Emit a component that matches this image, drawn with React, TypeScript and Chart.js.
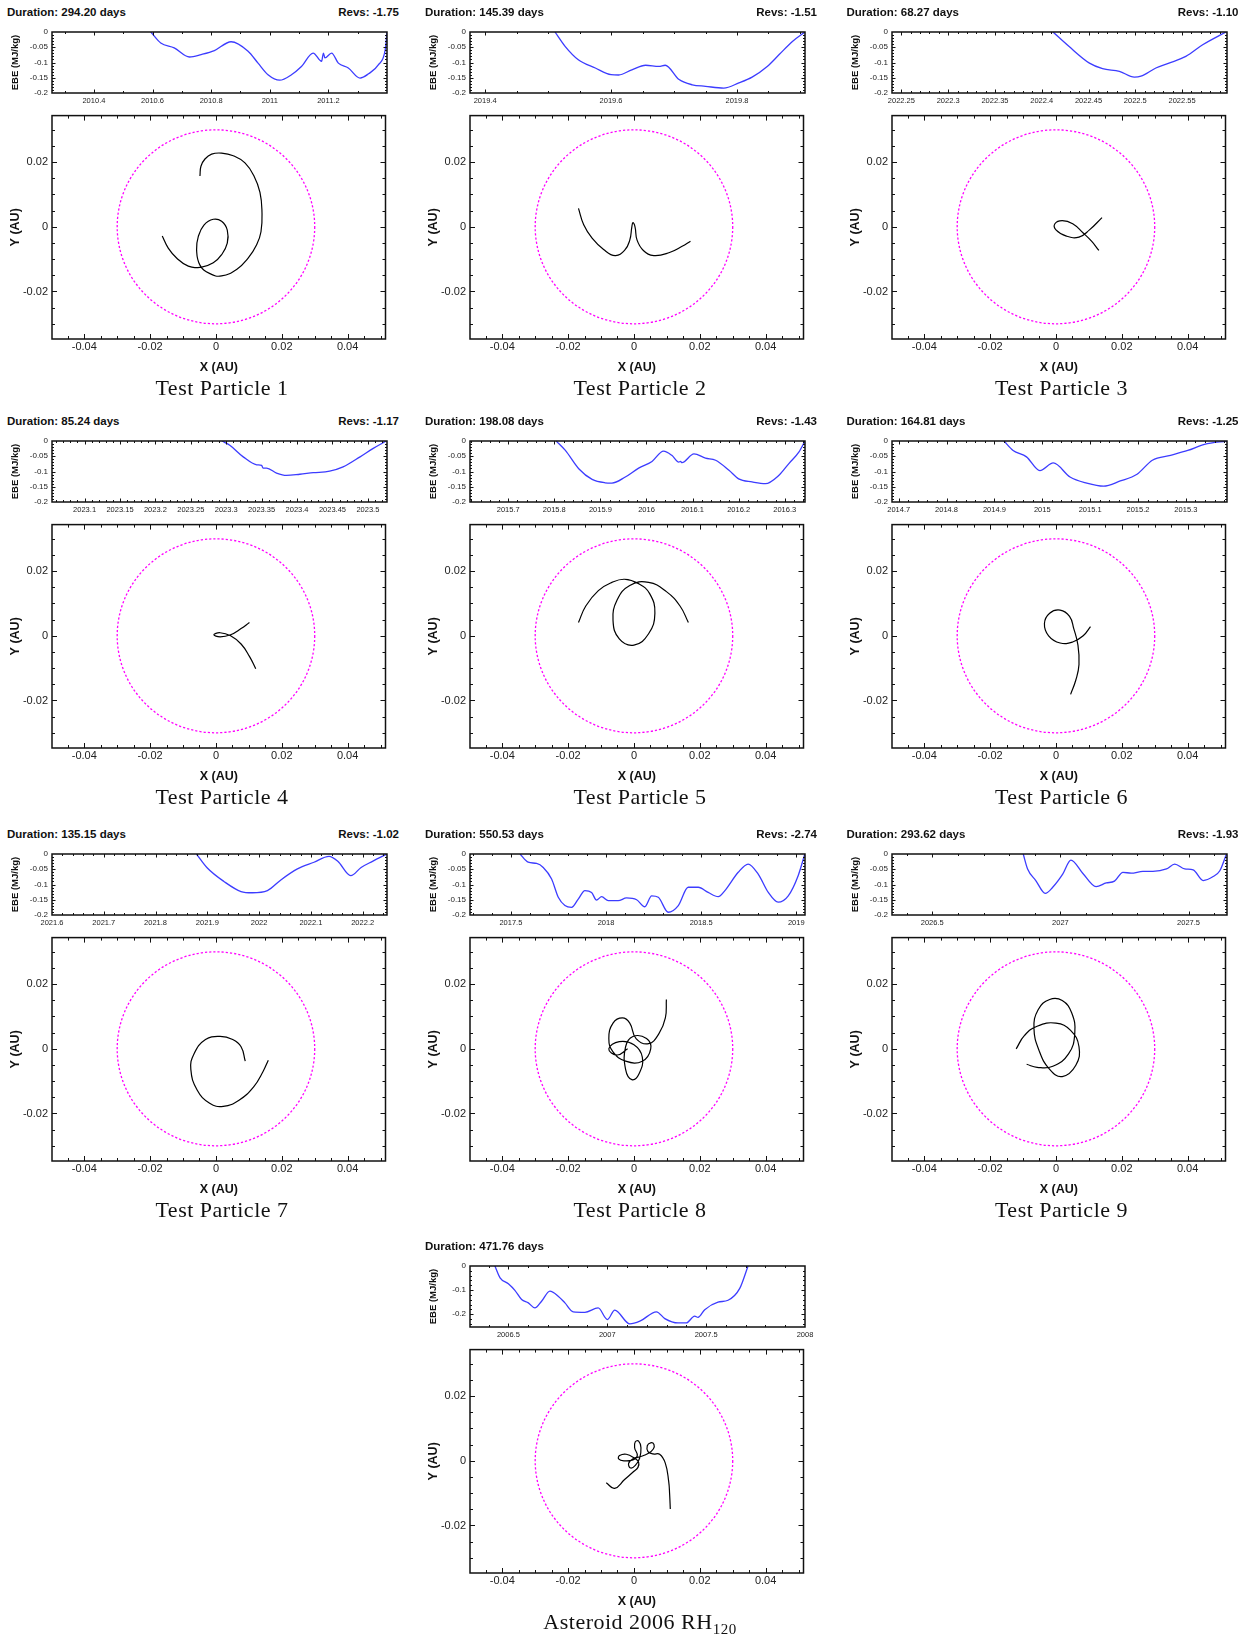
import React, { useEffect, useRef } from "react";
import { Chart, registerables } from "chart.js";
Chart.register(...registerables);

const SANS = "'Liberation Sans', Arial, Helvetica, sans-serif";
const SERIF = "'Liberation Serif', 'Times New Roman', serif";
Chart.defaults.font.family = SANS;

// ---------------- panel texts ----------------
const durations = ["294.20", "145.39", "68.27", "85.24", "198.08", "164.81", "135.15", "550.53", "293.62", "471.76"];
const revs = ["-1.75", "-1.51", "-1.10", "-1.17", "-1.43", "-1.25", "-1.02", "-2.74", "-1.93", ""];
const captions = ["Test Particle 1", "Test Particle 2", "Test Particle 3", "Test Particle 4", "Test Particle 5",
  "Test Particle 6", "Test Particle 7", "Test Particle 8", "Test Particle 9", "Asteroid 2006 RH"];

// ---------------- EBE (energy) series ----------------
const ebe1X = [2010.594, 2010.628, 2010.674, 2010.726, 2010.766, 2010.811, 2010.868, 2010.926, 2010.960, 2010.994, 2011.034, 2011.074, 2011.108, 2011.148, 2011.177, 2011.183, 2011.188, 2011.211, 2011.234, 2011.268, 2011.308, 2011.337, 2011.371, 2011.394, 2011.400];
const ebe1Y = [0, -0.036, -0.052, -0.082, -0.074, -0.061, -0.032, -0.063, -0.102, -0.14, -0.158, -0.14, -0.113, -0.069, -0.096, -0.069, -0.085, -0.069, -0.102, -0.118, -0.151, -0.137, -0.107, -0.058, 0];
const ebe2X = [2019.511, 2019.527, 2019.548, 2019.575, 2019.600, 2019.612, 2019.633, 2019.655, 2019.676, 2019.686, 2019.708, 2019.729, 2019.750, 2019.779, 2019.803, 2019.824, 2019.848, 2019.867, 2019.888, 2019.908];
const ebe2Y = [0, -0.047, -0.091, -0.118, -0.140, -0.141, -0.124, -0.109, -0.113, -0.109, -0.156, -0.173, -0.178, -0.184, -0.167, -0.148, -0.113, -0.074, -0.031, 0];
const ebe3X = [2022.412, 2022.429, 2022.451, 2022.465, 2022.483, 2022.499, 2022.506, 2022.522, 2022.536, 2022.554, 2022.572, 2022.597];
const ebe3Y = [0, -0.047, -0.102, -0.120, -0.129, -0.148, -0.145, -0.118, -0.102, -0.080, -0.042, 0];
const ebe4X = [2023.294, 2023.305, 2023.324, 2023.343, 2023.350, 2023.352, 2023.357, 2023.371, 2023.385, 2023.404, 2023.423, 2023.446, 2023.465, 2023.489, 2023.507, 2023.526];
const ebe4Y = [0, -0.014, -0.052, -0.078, -0.080, -0.089, -0.089, -0.105, -0.113, -0.109, -0.104, -0.099, -0.085, -0.052, -0.025, 0];
const ebe5X = [2015.804, 2015.824, 2015.853, 2015.882, 2015.910, 2015.925, 2015.954, 2015.983, 2016.012, 2016.037, 2016.055, 2016.070, 2016.074, 2016.077, 2016.103, 2016.128, 2016.150, 2016.179, 2016.200, 2016.229, 2016.258, 2016.287, 2016.309, 2016.331, 2016.344];
const ebe5Y = [0, -0.031, -0.091, -0.126, -0.137, -0.138, -0.118, -0.089, -0.067, -0.033, -0.047, -0.069, -0.067, -0.071, -0.042, -0.056, -0.063, -0.096, -0.124, -0.134, -0.140, -0.113, -0.074, -0.036, 0];
const ebe6X = [2014.920, 2014.939, 2014.967, 2014.995, 2015.023, 2015.058, 2015.093, 2015.128, 2015.163, 2015.198, 2015.230, 2015.268, 2015.304, 2015.339, 2015.386];
const ebe6Y = [0, -0.031, -0.052, -0.097, -0.072, -0.118, -0.138, -0.148, -0.131, -0.109, -0.063, -0.047, -0.031, -0.011, 0];
const ebe7X = [2021.879, 2021.900, 2021.932, 2021.965, 2021.987, 2022.016, 2022.042, 2022.074, 2022.106, 2022.135, 2022.152, 2022.177, 2022.197, 2022.219, 2022.247];
const ebe7Y = [0, -0.046, -0.090, -0.123, -0.127, -0.120, -0.085, -0.049, -0.027, -0.008, -0.024, -0.071, -0.044, -0.024, 0];
const ebe8X = [2017.548, 2017.591, 2017.635, 2017.670, 2017.714, 2017.749, 2017.784, 2017.819, 2017.854, 2017.889, 2017.924, 2017.950, 2017.977, 2018.012, 2018.064, 2018.108, 2018.161, 2018.204, 2018.240, 2018.275, 2018.327, 2018.380, 2018.432, 2018.485, 2018.537, 2018.590, 2018.625, 2018.695, 2018.747, 2018.800, 2018.853, 2018.905, 2018.958, 2019.010, 2019.045];
const ebe8Y = [0, -0.027, -0.031, -0.044, -0.082, -0.142, -0.169, -0.175, -0.148, -0.120, -0.126, -0.151, -0.140, -0.153, -0.153, -0.144, -0.150, -0.173, -0.137, -0.142, -0.191, -0.169, -0.109, -0.109, -0.126, -0.140, -0.120, -0.060, -0.033, -0.066, -0.126, -0.158, -0.137, -0.071, 0];
const ebe9X = [2026.855, 2026.872, 2026.904, 2026.941, 2026.970, 2027.009, 2027.041, 2027.087, 2027.139, 2027.179, 2027.211, 2027.244, 2027.276, 2027.322, 2027.361, 2027.414, 2027.446, 2027.485, 2027.518, 2027.557, 2027.596, 2027.622, 2027.648];
const ebe9Y = [0, -0.049, -0.087, -0.129, -0.109, -0.066, -0.020, -0.063, -0.107, -0.095, -0.089, -0.060, -0.063, -0.057, -0.057, -0.049, -0.033, -0.049, -0.052, -0.087, -0.074, -0.055, 0];
const ebe10X = [2006.432, 2006.458, 2006.500, 2006.533, 2006.567, 2006.601, 2006.634, 2006.668, 2006.710, 2006.752, 2006.786, 2006.828, 2006.887, 2006.954, 2007.001, 2007.038, 2007.114, 2007.165, 2007.249, 2007.291, 2007.358, 2007.400, 2007.442, 2007.459, 2007.493, 2007.560, 2007.611, 2007.670, 2007.712];
const ebe10Y = [0, -0.049, -0.074, -0.101, -0.139, -0.153, -0.174, -0.146, -0.104, -0.125, -0.153, -0.190, -0.192, -0.174, -0.222, -0.183, -0.240, -0.229, -0.190, -0.218, -0.236, -0.236, -0.208, -0.213, -0.181, -0.150, -0.142, -0.093, 0];

// EBE axes
const ebeXMin = [2010.257, 2019.376, 2022.240, 2023.054, 2015.617, 2014.686, 2021.600, 2017.285, 2026.343, 2006.306];
const ebeXMax = [2011.400, 2019.908, 2022.598, 2023.527, 2016.344, 2015.386, 2022.247, 2019.046, 2027.650, 2008.000];
const ebeXLabels = [
  ["2010.4", "2010.6", "2010.8", "2011", "2011.2"],
  ["2019.4", "2019.6", "2019.8"],
  ["2022.25", "2022.3", "2022.35", "2022.4", "2022.45", "2022.5", "2022.55"],
  ["2023.1", "2023.15", "2023.2", "2023.25", "2023.3", "2023.35", "2023.4", "2023.45", "2023.5"],
  ["2015.7", "2015.8", "2015.9", "2016", "2016.1", "2016.2", "2016.3"],
  ["2014.7", "2014.8", "2014.9", "2015", "2015.1", "2015.2", "2015.3"],
  ["2021.6", "2021.7", "2021.8", "2021.9", "2022", "2022.1", "2022.2"],
  ["2017.5", "2018", "2018.5", "2019"],
  ["2026.5", "2027", "2027.5"],
  ["2006.5", "2007", "2007.5", "2008"],
];
const ebeXMinorStep = [0.1, 0.05, 0.01, 0.01, 0.02, 0.02, 0.02, 0.1, 0.1, 0.1];
const ebeXMajorStep = [0.2, 0.2, 0.05, 0.05, 0.1, 0.1, 0.1, 0.5, 0.5, 0.5];
const ebeYLabelsStd = ["0", "-0.05", "-0.1", "-0.15", "-0.2"];
const ebeYLabelsAst = ["0", "-0.1", "-0.2"];

// ---------------- trajectories (AU) ----------------
const tp1X = [-0.00486, -0.00456, -0.00334, -0.00132, 0.00172, 0.00527, 0.00881, 0.01155, 0.01337, 0.01398, 0.01368, 0.01236, 0.00983, 0.00628, 0.00172, -0.00182, -0.00486, -0.00588, -0.00537, -0.00365, -0.00081, 0.00172, 0.00344, 0.00344, 0.00172, -0.00081, -0.00436, -0.00841, -0.01196, -0.01449, -0.01631];
const tp1Y = [0.01570, 0.01874, 0.02097, 0.02249, 0.02280, 0.02199, 0.01976, 0.01570, 0.01064, 0.00456, -0.00152, -0.00557, -0.00963, -0.01317, -0.01520, -0.01449, -0.01185, -0.00709, -0.00304, 0.00051, 0.00233, 0.00172, -0.00101, -0.00507, -0.00861, -0.01115, -0.01246, -0.01216, -0.00963, -0.00659, -0.00284];
const tp2X = [-0.01685, -0.01526, -0.01272, -0.00922, -0.00572, -0.00286, -0.00127, -0.00064, -0.00032, 0.00032, 0.00095, 0.00286, 0.00604, 0.01081, 0.01463, 0.01717];
const tp2Y = [0.00572, 0.00064, -0.00350, -0.00700, -0.00890, -0.00731, -0.00413, 0, 0.00127, 0, -0.00413, -0.00731, -0.00890, -0.00795, -0.00604, -0.00445];
const tp3X = [0.01304, 0.01081, 0.00827, 0.00509, 0.00191, -0.00032, 0, 0.00318, 0.00700, 0.01018, 0.01399];
const tp3Y = [-0.00731, -0.00445, -0.00191, 0.00095, 0.00191, 0.00095, -0.00095, -0.00286, -0.00318, -0.00095, 0.00286];
const tp4X = [0.01208, 0.01017, 0.00763, 0.00445, 0.00127, -0.00064, 0.00127, 0.00445, 0.00763, 0.01017];
const tp4Y = [-0.01017, -0.00636, -0.00254, 0, 0.00095, 0.00032, -0.00032, 0.00032, 0.00223, 0.00413];
const tp5X = [-0.01685, -0.01463, -0.01081, -0.00668, -0.00286, 0.00127, 0.00477, 0.00636, 0.00445, 0, -0.00445, -0.00636, -0.00509, -0.00127, 0.00445, 0.00986, 0.01399, 0.01653];
const tp5Y = [0.00413, 0.00922, 0.01399, 0.01653, 0.01749, 0.01622, 0.01304, 0.00700, 0.00064, -0.00286, -0.00095, 0.00477, 0.01113, 0.01558, 0.01653, 0.01367, 0.00922, 0.00413];
const tp6X = [0.01049, 0.00827, 0.00509, 0.00127, -0.00223, -0.00350, -0.00191, 0.00127, 0.00413, 0.00541, 0.00668, 0.00700, 0.00604, 0.00445];
const tp6Y = [0.00286, 0, -0.00191, -0.00223, 0, 0.00382, 0.00700, 0.00795, 0.00604, 0.00223, -0.00286, -0.00890, -0.01367, -0.01812];
const tp7X = [0.00890, 0.00763, 0.00509, 0.00127, -0.00318, -0.00668, -0.00763, -0.00572, -0.00191, 0.00223, 0.00700, 0.01145, 0.01431, 0.01590];
const tp7Y = [-0.00382, 0.00064, 0.00286, 0.00382, 0.00286, -0.00159, -0.00636, -0.01272, -0.01685, -0.01781, -0.01590, -0.01176, -0.00700, -0.00350];
const tp8X = [0.00985, 0.00954, 0.00763, 0.00445, 0.00064, -0.00127, -0.00350, -0.00636, -0.00763, -0.00636, -0.00254, 0.00254, 0.00509, 0.00382, -0.00032, -0.00254, -0.00254, -0.00064, 0.00159, 0.00254, 0, -0.00445, -0.00763, -0.00509, -0.00191];
const tp8Y = [0.01526, 0.00954, 0.00477, 0.00159, 0.00318, 0.00795, 0.00954, 0.00795, 0.00318, -0.00095, -0.00382, -0.00382, 0, 0.00318, 0.00382, 0.00064, -0.00636, -0.00954, -0.00763, -0.00254, 0.00127, 0.00223, 0, -0.00191, 0];
const tp9X = [-0.01208, -0.00954, -0.00572, 0, 0.00445, 0.00700, 0.00604, 0.00191, -0.00191, -0.00509, -0.00668, -0.00541, -0.00191, 0.00191, 0.00477, 0.00572, 0.00382, -0.00095, -0.00572, -0.00890];
const tp9Y = [0, 0.00413, 0.00700, 0.00795, 0.00572, 0.00064, -0.00509, -0.00859, -0.00636, -0.00064, 0.00636, 0.01208, 0.01526, 0.01494, 0.01113, 0.00477, -0.00159, -0.00541, -0.00572, -0.00477];
const tp10X = [-0.00841, -0.00588, -0.00284, 0, 0.00122, 0.00142, 0.00020, -0.00233, -0.00436, -0.00466, -0.00304, -0.00030, 0.00101, 0.00020, 0.00041, 0.00142, 0.00213, 0.00172, 0.00041, -0.00101, -0.00162, -0.00030, 0.00203, 0.00426, 0.00588, 0.00608, 0.00507, 0.00405, 0.00426, 0.00578, 0.00780, 0.00952, 0.01054, 0.01084, 0.01104];
const tp10Y = [-0.00679, -0.00851, -0.00578, -0.00324, -0.00203, -0.00041, 0.00081, 0.00203, 0.00162, 0.00061, 0, 0.00030, 0.00162, 0.00405, 0.00588, 0.00608, 0.00405, 0.00081, -0.00142, -0.00223, -0.00081, 0.00061, 0.00132, 0.00223, 0.00365, 0.00507, 0.00557, 0.00466, 0.00284, 0.00213, 0.00203, -0.00071, -0.00628, -0.01033, -0.01489];

const trajXLabels = ["-0.04", "-0.02", "0", "0.02", "0.04"];
const trajYLabels = ["0.02", "0", "-0.02"];
const HILL_RADIUS = 0.03;

const ebeXs = [ebe1X, ebe2X, ebe3X, ebe4X, ebe5X, ebe6X, ebe7X, ebe8X, ebe9X, ebe10X];
const ebeYs = [ebe1Y, ebe2Y, ebe3Y, ebe4Y, ebe5Y, ebe6Y, ebe7Y, ebe8Y, ebe9Y, ebe10Y];
const tpXs = [tp1X, tp2X, tp3X, tp4X, tp5X, tp6X, tp7X, tp8X, tp9X, tp10X];
const tpYs = [tp1Y, tp2Y, tp3Y, tp4Y, tp5Y, tp6Y, tp7Y, tp8Y, tp9Y, tp10Y];

// layout
const COLS = [0, 418, 839.5];
const ROWS = [0, 409.4, 821.7, 1233.7];
const PANEL_POS = [[0, 0], [1, 0], [2, 0], [0, 1], [1, 1], [2, 1], [0, 2], [1, 2], [2, 2], [1, 3]];

function tickList(min: number, max: number, step: number, major: number) {
  const out: [number, boolean][] = [];
  const ratio = Math.round(major / step);
  const k0 = Math.ceil(min / step - 1e-6);
  const k1 = Math.floor(max / step + 1e-6);
  for (let k = k0; k <= k1; k++) out.push([k * step, Math.abs(k % ratio) === 0]);
  return out;
}

function framePlugin(xTicks: [number, boolean][], yTicks: [number, boolean][], majorLen: number, minorLen: number, circle?: number) {
  return {
    id: "frameTicks",
    beforeDatasetsDraw(chart: any) {
      if (!circle) return;
      const { ctx, chartArea: a } = chart;
      const xs = chart.scales.x, ys = chart.scales.y;
      const cx = xs.getPixelForValue(0), cy = ys.getPixelForValue(0);
      const rx = Math.abs(xs.getPixelForValue(circle) - cx);
      const ry = Math.abs(ys.getPixelForValue(circle) - cy);
      ctx.save();
      ctx.beginPath();
      ctx.rect(a.left, a.top, a.right - a.left, a.bottom - a.top);
      ctx.clip();
      ctx.strokeStyle = "#ff00ff";
      ctx.lineWidth = 1.3;
      ctx.setLineDash([2.2, 2]);
      ctx.beginPath();
      ctx.ellipse(cx, cy, rx, ry, 0, 0, Math.PI * 2);
      ctx.stroke();
      ctx.restore();
    },
    afterDraw(chart: any) {
      const { ctx, chartArea: a } = chart;
      const xs = chart.scales.x, ys = chart.scales.y;
      ctx.save();
      ctx.setLineDash([]);
      ctx.strokeStyle = "#111";
      ctx.lineWidth = 1;
      ctx.beginPath();
      for (const [v, maj] of xTicks) {
        const px = Math.round(xs.getPixelForValue(v)) + 0.5;
        if (px < a.left + 1 || px > a.right - 1) continue;
        const L = maj ? majorLen : minorLen;
        ctx.moveTo(px, a.bottom); ctx.lineTo(px, a.bottom - L);
        ctx.moveTo(px, a.top); ctx.lineTo(px, a.top + L);
      }
      for (const [v, maj] of yTicks) {
        const py = Math.round(ys.getPixelForValue(v)) + 0.5;
        if (py < a.top + 1 || py > a.bottom - 1) continue;
        const L = maj ? majorLen : minorLen;
        ctx.moveTo(a.left, py); ctx.lineTo(a.left + L, py);
        ctx.moveTo(a.right, py); ctx.lineTo(a.right - L, py);
      }
      ctx.stroke();
      ctx.lineWidth = 1.5;
      ctx.strokeRect(a.left, a.top, a.right - a.left, a.bottom - a.top);
      ctx.restore();
    },
  };
}

function labelScale(labels: string[], min: number, max: number, font: any, padding: number, extra: any) {
  return {
    type: "linear",
    min, max,
    bounds: "data",
    grid: { display: false, drawTicks: false },
    border: { display: false },
    ticks: {
      font, color: "#222", padding, maxRotation: 0, minRotation: 0, autoSkip: false,
      callback: (v: number) => {
        const f = labels.find((l) => Math.abs(parseFloat(l) - v) < 1e-7);
        return f === undefined ? "" : f;
      },
    },
    afterBuildTicks: (s: any) => { s.ticks = labels.map((l) => ({ value: parseFloat(l) })); },
    ...extra,
  };
}

function ebeConfig(i: number) {
  const yLabels = i === 9 ? ebeYLabelsAst : ebeYLabelsStd;
  const yMin = i === 9 ? -0.253 : -0.2;
  const xt = tickList(ebeXMin[i], ebeXMax[i], ebeXMinorStep[i], ebeXMajorStep[i]);
  const yt = i === 9 ? tickList(yMin, 0, 0.02, 0.1) : tickList(yMin, 0, 0.01, 0.05);
  return {
    type: "scatter",
    data: {
      datasets: [{
        data: ebeXs[i].map((x, k) => ({ x, y: ebeYs[i][k] })),
        showLine: true, borderColor: "#3c3cff", borderWidth: 1.3, pointRadius: 0,
        tension: 0.4, cubicInterpolationMode: "monotone",
      }],
    },
    options: {
      responsive: false, animation: false, devicePixelRatio: 1,
      layout: { padding: { top: 10, right: 13, left: 0, bottom: 0 } },
      plugins: { legend: { display: false }, tooltip: { enabled: false } },
      scales: {
        x: labelScale(ebeXLabels[i], ebeXMin[i], ebeXMax[i], { size: 7.5 }, 3, {
          afterFit: (s: any) => { s.height = 19; },
        }),
        y: labelScale(yLabels, yMin, 0, { size: 8 }, 4, {
          afterFit: (s: any) => { s.width = 52; },
          title: { display: true, text: "EBE (MJ/kg)", color: "#111", font: { size: 9.5, weight: "bold" }, padding: { top: 10, bottom: 0 } },
        }),
      },
    },
    plugins: [framePlugin(xt, yt, 3.5, 2)],
  };
}

function trajConfig(i: number) {
  const xMin = -0.0498, xMax = 0.0515, yMin = -0.0347, yMax = 0.0344;
  const xt = tickList(xMin, xMax, 0.005, 0.02);
  const yt = tickList(yMin, yMax, 0.005, 0.02);
  return {
    type: "scatter",
    data: {
      datasets: [{
        data: tpXs[i].map((x, k) => ({ x, y: tpYs[i][k] })),
        showLine: true, borderColor: "#000", borderWidth: 1.2, pointRadius: 0, tension: 0.45,
      }],
    },
    options: {
      responsive: false, animation: false, devicePixelRatio: 1,
      layout: { padding: { top: 7, right: 14.5, left: 0, bottom: 0 } },
      plugins: { legend: { display: false }, tooltip: { enabled: false } },
      scales: {
        x: labelScale(trajXLabels, xMin, xMax, { size: 11 }, 1, {
          afterFit: (s: any) => { s.height = 41; },
          title: { display: true, text: "X (AU)", color: "#111", font: { size: 12.5, weight: "bold" }, padding: { top: 0, bottom: 5 } },
        }),
        y: labelScale(trajYLabels, yMin, yMax, { size: 11 }, 4, {
          afterFit: (s: any) => { s.width = 52; },
          title: { display: true, text: "Y (AU)", color: "#111", font: { size: 12.5, weight: "bold" }, padding: { top: 8, bottom: 0 } },
        }),
      },
    },
    plugins: [framePlugin(xt, yt, 5, 3, HILL_RADIUS)],
  };
}

function Panel({ i }: { i: number }) {
  const ebeRef = useRef<HTMLCanvasElement>(null);
  const trajRef = useRef<HTMLCanvasElement>(null);
  useEffect(() => {
    const c1 = new Chart(ebeRef.current as HTMLCanvasElement, ebeConfig(i) as any);
    const c2 = new Chart(trajRef.current as HTMLCanvasElement, trajConfig(i) as any);
    return () => { c1.destroy(); c2.destroy(); };
  }, [i]);
  const [c, r] = PANEL_POS[i];
  const textStyle: React.CSSProperties = {
    position: "absolute", top: 5, fontFamily: SANS, fontWeight: "bold", fontSize: "11.5px",
    lineHeight: "14px", color: "#111", whiteSpace: "nowrap",
  };
  return (
    <div style={{ position: "absolute", left: COLS[c], top: ROWS[r], width: 410, height: 405 }}>
      <div style={{ ...textStyle, left: 7 }}>Duration: {durations[i]} days</div>
      {revs[i] ? <div style={{ ...textStyle, left: 0, width: 399, textAlign: "right" }}>Revs: {revs[i]}</div> : null}
      <canvas ref={ebeRef} width={400} height={90} style={{ position: "absolute", left: 0, top: 22, width: 400, height: 90 }} />
      <canvas ref={trajRef} width={400} height={275} style={{ position: "absolute", left: 0, top: 105, width: 400, height: 275 }} />
      <div style={{
        position: "absolute", left: 0, width: 444, top: 375, textAlign: "center", fontFamily: SERIF,
        fontSize: "22px", letterSpacing: "0.5px", lineHeight: "26px", color: "#111", whiteSpace: "nowrap",
      }}>
        {captions[i]}
        {i === 9 ? <sub style={{ fontSize: "15px" }}>120</sub> : null}
      </div>
    </div>
  );
}

export default function App() {
  return (
    <div style={{ position: "absolute", left: 0, top: 0, width: 1250, height: 1640, background: "#fff" }}>
      {durations.map((_, i) => <Panel key={i} i={i} />)}
    </div>
  );
}
